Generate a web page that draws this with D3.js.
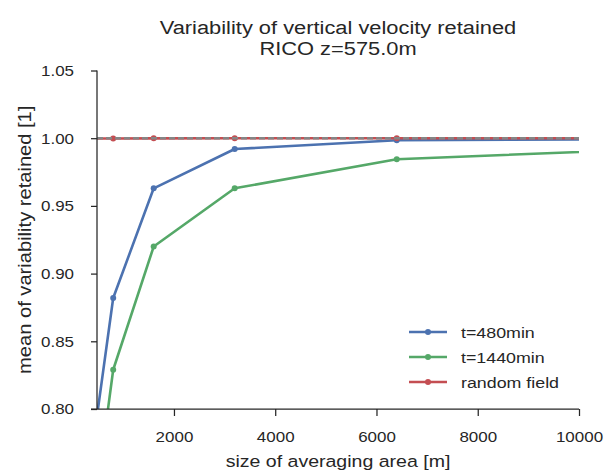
<!DOCTYPE html>
<html><head><meta charset="utf-8">
<script src="https://cdn.jsdelivr.net/npm/d3@7"></script>
<style>
body{margin:0;background:#fff;}
text{font-family:"Liberation Sans",Arial,sans-serif;fill:#262626;}
</style></head>
<body><svg id="c" width="605" height="473"></svg>
<script>
const sizes = [400, 800, 1600, 3200, 6400, 12800];
const t480 = [0.773, 0.882, 0.963, 0.992, 0.9985, 0.9995];
const t1440 = [0.716, 0.829, 0.920, 0.963, 0.9845, 0.994];
const randomField = [0.9998, 0.9998, 0.9999, 1.0, 1.0, 1.0];
const xTicks = [2000, 4000, 6000, 8000, 10000];
const yTicks = [0.80, 0.85, 0.90, 0.95, 1.00, 1.05];
const seriesNames = ["t=480min", "t=1440min", "random field"];
const colors = ["#4C72B0", "#55A868", "#C44E52"];

const SX = 1.15; // horizontal text stretch seen in the reference
const svg = d3.select("#c");
const L = 97, R = 579, T = 70.5, B = 409;
const x = d3.scaleLinear().domain([480, 10000]).range([L, R]);
const y = d3.scaleLinear().domain([0.80, 1.05]).range([B, T]);

svg.append("defs").append("clipPath").attr("id", "clip")
  .append("rect").attr("x", L).attr("y", T).attr("width", R - L).attr("height", B - T);

const plot = svg.append("g").attr("clip-path", "url(#clip)");
const line = d3.line().x((d, i) => x(sizes[i])).y(d => y(d));
const allSeries = [t480, t1440, randomField];

allSeries.forEach((s, k) => {
  plot.append("path").datum(s).attr("d", line)
    .attr("fill", "none").attr("stroke", colors[k]).attr("stroke-width", 2.6)
    .attr("stroke-linejoin", "round");
  plot.selectAll(null).data(s).enter().append("circle")
    .attr("cx", (d, i) => x(sizes[i])).attr("cy", d => y(d)).attr("r", 3)
    .attr("fill", colors[k]);
});
// reference line at 1.0 (grey dashed)
plot.append("line").attr("x1", L).attr("x2", R).attr("y1", y(1)).attr("y2", y(1))
  .attr("stroke", "#858585").attr("stroke-width", 2.6).attr("stroke-dasharray", "6,3");

// axes
const xAxis = svg.append("g").attr("transform", `translate(0,${B})`)
  .call(d3.axisBottom(x).tickValues(xTicks).tickFormat(d3.format("d")).tickSize(7).tickPadding(15));
const yAxis = svg.append("g").attr("transform", `translate(${L},0)`)
  .call(d3.axisLeft(y).tickValues(yTicks).tickFormat(d3.format(".2f")).tickSize(6).tickPadding(17));
[xAxis, yAxis].forEach(a => {
  a.select(".domain").attr("stroke", "#262626").attr("stroke-width", 1.25);
  a.selectAll(".tick line").attr("stroke", "#262626").attr("stroke-width", 1.25);
  a.selectAll(".tick text").attr("font-size", 15).attr("fill", "#262626")
    .style("font-family", "'Liberation Sans', Arial, sans-serif")
    .each(function () {
      const t = d3.select(this);
      const tx = +t.attr("x") || 0, ty = +t.attr("y") || 0;
      t.attr("transform", `translate(${tx},${ty}) scale(1.13,1)`).attr("x", 0).attr("y", 0);
    });
});
xAxis.select(".domain").attr("d", `M${L - 6},0H${R}`);
yAxis.select(".domain").attr("d", `M0,${T}V${B}`);

// titles
function label(tx, ty, size, txt, rot) {
  return svg.append("text")
    .attr("transform", `translate(${tx},${ty})${rot ? " rotate(" + rot + ")" : ""} scale(${SX},1)`)
    .attr("text-anchor", "middle").attr("font-size", size).text(txt);
}
label((L + R) / 2, 33.5, 19, "Variability of vertical velocity retained");
label((L + R) / 2, 55, 19, "RICO z=575.0m");
label((L + R) / 2, 467, 17, "size of averaging area [m]");
label(31, (T + B) / 2, 17.5, "mean of variability retained [1]", -90);

// legend
const lg = svg.append("g");
seriesNames.forEach((n, i) => {
  const yy = 332 + i * 25;
  lg.append("line").attr("x1", 409).attr("x2", 447).attr("y1", yy).attr("y2", yy)
    .attr("stroke", colors[i]).attr("stroke-width", 2.6);
  lg.append("circle").attr("cx", 428).attr("cy", yy).attr("r", 3).attr("fill", colors[i]);
  lg.append("text").attr("transform", `translate(461,${yy + 5.5}) scale(${SX},1)`)
    .attr("font-size", 15.5).text(n);
});
</script></body></html>
